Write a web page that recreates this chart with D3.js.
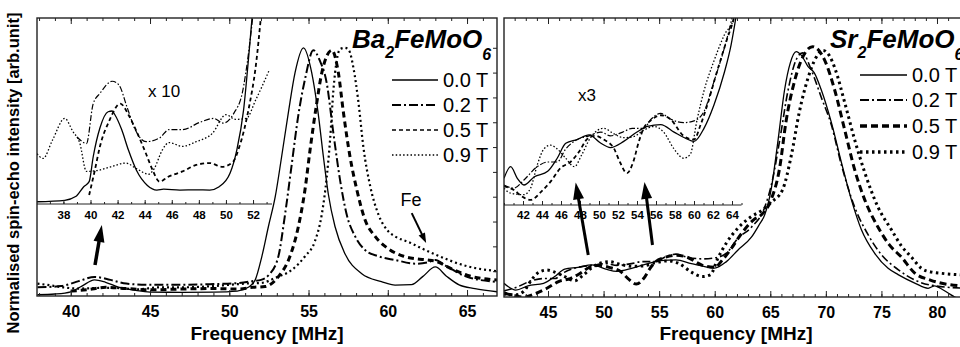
<!DOCTYPE html>
<html><head><meta charset="utf-8">
<script src="https://cdn.jsdelivr.net/npm/d3@7"></script>
<style>body{margin:0;background:#fff}svg{display:block}</style>
</head><body>
<svg id="c" width="960" height="347"></svg>
<script>
// ---------- data ----------
const fieldLabels = ["0.0 T", "0.2 T", "0.5 T", "0.9 T"];

// Ba2FeMoO6 main spectra [frequency MHz, normalised intensity]
const baMain00 = [[37.9,.005],[39,.008],[40,.017],[40.7,.04],[41.5,.065],[42.2,.055],[43,.036],[44,.024],[45,.016],[47,.015],[49,.016],[50.5,.02],[51.2,.035],[51.63,.064],[52.05,.158],[52.47,.28],[52.9,.40],[53.3,.56],[53.73,.74],[54.15,.90],[54.68,1.0],[55.2,.90],[55.6,.74],[55.94,.56],[56.25,.41],[56.67,.28],[57.3,.17],[58.36,.09],[59.6,.058],[60.46,.044],[61.5,.046],[62.2,.078],[63.0,.117],[63.7,.08],[64.5,.045],[65.5,.03],[66.9,.017]];
const baMain02 = [[37.9,.035],[39.4,.04],[40.5,.06],[41.5,.077],[42.5,.065],[43.5,.05],[45,.045],[47,.045],[49,.048],[50.5,.052],[51.5,.06],[52.0,.065],[52.5,.085],[53.1,.16],[53.5,.32],[53.94,.53],[54.36,.73],[54.8,.88],[55.3,.99],[55.7,.95],[56.15,.857],[56.57,.655],[56.99,.467],[57.4,.33],[57.94,.24],[58.57,.185],[59.4,.16],[60.46,.145],[61.8,.13],[62.5,.135],[63.0,.145],[63.7,.12],[65,.077],[66.9,.057]];
const baMain05 = [[40.0,.02],[41,.025],[42.2,.035],[43.5,.03],[45,.025],[47,.028],[49,.03],[50.5,.028],[51.5,.035],[52.26,.038],[53.1,.078],[53.83,.16],[54.36,.28],[54.78,.43],[55.1,.59],[55.5,.77],[55.84,.90],[56.47,.99],[56.88,.90],[57.2,.74],[57.62,.56],[58.04,.43],[58.57,.306],[59.2,.24],[60.04,.19],[61,.16],[61.8,.15],[62.5,.145],[63.0,.14],[64,.11],[65,.084],[66.9,.064]];
const baMain09 = [[37.9,.05],[38.5,.045],[39.5,.035],[40.5,.03],[41.5,.032],[42.6,.033],[44.3,.027],[45.5,.035],[47,.035],[49,.04],[50,.045],[51,.05],[52.05,.053],[52.9,.073],[53.94,.105],[54.78,.16],[55.4,.22],[55.84,.33],[56.15,.48],[56.36,.63],[56.57,.83],[56.78,.95],[57.0,.995],[57.3,1.0],[57.55,.99],[57.83,.92],[58.15,.78],[58.46,.60],[58.9,.44],[59.4,.33],[60.04,.26],[60.46,.24],[61.4,.215],[62.2,.19],[62.9,.17],[65,.12],[66.9,.10]];

// Ba2FeMoO6 inset (x10), relative inset height
const baIns00 = [[36.05,.012],[38.1,.02],[38.9,.04],[39.5,.093],[39.9,.12],[40.2,.254],[40.7,.41],[41.3,.496],[41.6,.50],[41.8,.48],[42.3,.40],[42.8,.29],[43.4,.18],[44.2,.10],[44.9,.075],[45.4,.08],[46.6,.075],[47.8,.076],[48.8,.075],[49.5,.093],[50.3,.165],[50.8,.29],[51.3,.505],[51.7,.81],[51.95,1.02]];
const baIns02 = [[39.0,.36],[39.4,.335],[39.7,.325],[40.2,.54],[40.7,.595],[41.6,.66],[42.1,.64],[42.7,.52],[43.3,.40],[44.1,.335],[45.1,.355],[45.8,.40],[46.8,.40],[48.1,.44],[49.1,.46],[49.8,.435],[50.6,.49],[51.2,.595],[51.7,.83],[52.0,1.02]];
const baIns05 = [[39.9,.048],[40.3,.175],[40.7,.31],[41.4,.45],[42.2,.54],[42.8,.48],[43.4,.39],[44.1,.27],[44.6,.18],[45.1,.12],[45.7,.145],[46.8,.175],[47.8,.21],[48.8,.22],[49.7,.2],[50.5,.225],[51.0,.31],[51.7,.52],[52.2,.74],[52.6,1.02]];
const baIns09 = [[36.05,.27],[36.5,.245],[37.2,.345],[38.1,.46],[38.7,.39],[39.2,.33],[39.7,.175],[40.5,.18],[41.5,.2],[42.6,.22],[43.4,.19],[44.3,.16],[44.7,.19],[45.3,.29],[45.8,.33],[46.8,.31],[47.8,.335],[49.0,.38],[50.0,.48],[50.7,.455],[51.5,.46],[52.2,.56],[53.2,.72]];

// Sr2FeMoO6 main spectra
const srMain00 = [[41.04,.055],[41.4,.042],[42.1,.028],[43.2,.045],[44.6,.055],[45.6,.082],[46.5,.112],[47.7,.119],[48.95,.129],[50.2,.112],[51.2,.103],[52.6,.116],[54.0,.134],[55.1,.146],[56.5,.149],[57.9,.134],[59.1,.122],[60.0,.116],[61.05,.142],[62.1,.189],[63.3,.24],[64.0,.29],[64.5,.33],[65.07,.43],[65.7,.63],[66.28,.83],[66.8,.94],[67.33,.985],[67.8,.97],[68.4,.925],[68.96,.90],[69.6,.83],[70.5,.70],[71.4,.54],[72.3,.39],[73.2,.27],[74.4,.175],[75.6,.115],[76.5,.09],[78,.056],[79.2,.035],[79.8,.045],[80.3,.035],[81.0,.016],[81.6,.0],[82.5,-.01]];
const srMain02 = [[41.04,.025],[42.1,.038],[43.5,.065],[44.6,.074],[45.6,.074],[46.5,.1],[47.7,.119],[48.95,.127],[50.2,.134],[51.2,.127],[52.5,.134],[53.5,.142],[54.7,.142],[55.5,.16],[56.5,.172],[57.5,.16],[58.9,.153],[60.0,.157],[61.05,.176],[62.1,.236],[63.3,.28],[64.5,.36],[65.2,.47],[65.85,.63],[66.6,.83],[67.3,.95],[67.9,.98],[68.7,.91],[69.6,.80],[70.5,.69],[71.4,.53],[72.6,.36],[73.8,.25],[75,.17],[76.5,.11],[78,.068],[79.4,.048],[82.5,.035]];
const srMain05 = [[41.04,.018],[41.9,.005],[42.8,.0],[43.9,.014],[44.9,.035],[46.0,.063],[47.0,.074],[47.9,.095],[48.8,.121],[49.6,.127],[50.5,.119],[51.6,.1],[52.2,.074],[52.95,.052],[53.6,.074],[54.2,.116],[54.7,.142],[55.4,.157],[56.5,.168],[57.5,.16],[58.9,.127],[60,.119],[60.7,.149],[61.4,.189],[62.4,.254],[63.5,.31],[64.2,.33],[65.07,.39],[65.85,.52],[66.4,.70],[67.2,.87],[68.0,.97],[68.8,1.005],[69.9,.95],[70.8,.83],[71.7,.67],[72.6,.51],[73.5,.39],[74.7,.28],[75.7,.21],[76.8,.16],[78,.096],[79.4,.068],[82.5,.043]];
const srMain09 = [[41.04,.012],[42.1,.009],[42.8,.022],[43.5,.068],[44.2,.1],[44.9,.108],[45.6,.1],[46.5,.082],[47.4,.065],[48.2,.089],[49.1,.123],[50.5,.142],[51.6,.13],[52.6,.123],[53.6,.125],[54.7,.138],[55.8,.145],[56.8,.134],[57.9,.1],[58.9,.082],[59.6,.089],[60.3,.157],[61.05,.217],[62.1,.277],[63.2,.32],[64.3,.35],[65.07,.38],[66.1,.43],[66.9,.57],[67.6,.74],[68.4,.88],[69.1,.96],[69.75,.99],[70.3,.97],[70.8,.92],[71.7,.78],[72.6,.63],[73.5,.50],[74.7,.36],[75.9,.27],[76.8,.205],[77.7,.16],[78.6,.115],[79.5,.1],[80.4,.095],[82.5,.088]];

// Sr2FeMoO6 inset (x3)
const srIns00 = [[40.0,.143],[40.7,.205],[41.4,.143],[42.1,.107],[43.2,.151],[44.6,.18],[45.6,.25],[46.5,.33],[47.7,.35],[48.95,.375],[50.2,.33],[51.2,.307],[52.6,.34],[54.0,.39],[55.1,.42],[56.5,.43],[57.9,.39],[59.1,.357],[60.0,.34],[61.05,.41],[62.1,.535],[63.2,.71],[63.9,.855],[64.4,1.0],[64.7,1.1]];
const srIns02 = [[40.0,.107],[41.05,.09],[42.1,.134],[43.5,.205],[44.6,.23],[45.6,.23],[46.5,.30],[47.7,.35],[48.95,.37],[50.2,.39],[51.2,.37],[52.5,.39],[53.5,.41],[54.7,.41],[55.5,.46],[56.5,.49],[57.5,.46],[58.9,.44],[60.0,.45],[61.05,.50],[62.1,.66],[63.2,.84],[64.0,1.0],[64.4,1.1]];
const srIns05 = [[40.0,.1],[41.05,.08],[41.9,.045],[42.8,.027],[43.9,.07],[44.9,.125],[46.0,.2],[47.0,.23],[47.9,.285],[48.8,.355],[49.6,.37],[50.5,.35],[51.6,.3],[52.2,.23],[52.95,.17],[53.6,.23],[54.2,.34],[54.7,.41],[55.4,.45],[56.5,.48],[57.5,.46],[58.9,.37],[60.0,.35],[60.7,.43],[61.4,.535],[62.4,.71],[63.5,.89],[64.2,1.0],[64.6,1.1]];
const srIns09 = [[40.0,.09],[40.7,.063],[42.1,.055],[42.8,.09],[43.5,.214],[44.2,.30],[44.9,.32],[45.6,.30],[46.5,.25],[47.4,.205],[48.2,.27],[49.1,.36],[50.5,.41],[51.6,.38],[52.6,.36],[53.6,.365],[54.7,.40],[55.8,.42],[56.8,.39],[57.9,.30],[58.9,.25],[59.6,.27],[60.3,.45],[61.05,.61],[62.1,.77],[63.2,.91],[64.2,1.0],[64.6,1.1]];

// tick values
const baMainTicks = [40,45,50,55,60,65];
const srMainTicks = [45,50,55,60,65,70,75,80];
const baInsTicks = [38,40,42,44,46,48,50,52];
const srInsTicks = [42,44,46,48,50,52,54,56,58,60,62,64];

// annotation arrows [f1, v1, f2, v2] in main data units
const baArrows = [[41.53,.125,41.96,.286],[61.51,.334,62.42,.2135]];
const srArrows = [[48.62,.169,47.49,.46],[54.40,.209,53.68,.462]];

// ---------- drawing ----------
const FONT = "'Liberation Sans', Arial, Helvetica, sans-serif";
const svg = d3.select("#c");
const defs = svg.append("defs");

const styleMainBa = [{w:1.3,d:null},{w:2,d:"9,3,2,3"},{w:3,d:"6,4"},{w:2.2,d:"2,3"}];
const styleMainSr = [{w:1.3,d:null},{w:1.6,d:"8,3,2,3"},{w:3,d:"7,4"},{w:3,d:"2.5,3.5"}];
const styleIns = [{w:1.3,d:null},{w:1.2,d:"6,2,1.5,2"},{w:1.8,d:"4,3"},{w:1.3,d:"1.5,2"}];
const styleLegBa = [{w:1.3,d:null},{w:2,d:"9,3,2,3"},{w:1.6,d:"4,3"},{w:1.6,d:"1.5,2.2"}];
const styleLegSr = [{w:1.3,d:null},{w:2,d:"9,3,2,3"},{w:3.5,d:"7,4"},{w:3.5,d:"2.5,3.5"}];

let clipId = 0;
function clip(x0,y0,x1,y1){
  const id = "cl"+(clipId++);
  defs.append("clipPath").attr("id",id).append("rect")
    .attr("x",x0).attr("y",y0).attr("width",x1-x0).attr("height",y1-y0);
  return "url(#"+id+")";
}

function drawSeries(series, x, y, styles, clipUrl){
  const g = svg.append("g").attr("clip-path", clipUrl);
  const line = d3.line().x(d=>x(d[0])).y(d=>y(d[1])).curve(d3.curveMonotoneX);
  series.forEach((s,i)=>{
    g.append("path").attr("d", line(s)).attr("fill","none")
      .attr("stroke","#000").attr("stroke-width",styles[i].w)
      .attr("stroke-dasharray",styles[i].d).attr("stroke-linejoin","round");
  });
}

function styleAxis(g, size, bold){
  g.select(".domain").remove();
  g.selectAll("line").attr("stroke","#222").attr("stroke-width",1);
  g.selectAll("text").attr("font-family",FONT).attr("font-size",size)
    .attr("font-weight", bold ? "bold":"normal").attr("fill","#000");
}

function minorRange(a,b){ return d3.range(Math.ceil(a), Math.floor(b)+1); }

function arrow(x1,y1,x2,y2,w,hl,hw){
  const dx=x2-x1, dy=y2-y1, L=Math.hypot(dx,dy), ux=dx/L, uy=dy/L;
  const bx=x2-ux*hl, by=y2-uy*hl;
  svg.append("line").attr("x1",x1).attr("y1",y1).attr("x2",bx+ux*1).attr("y2",by+uy*1)
    .attr("stroke","#000").attr("stroke-width",w);
  svg.append("polygon").attr("fill","#000").attr("points",
    [[x2,y2],[bx-uy*hw/2,by+ux*hw/2],[bx+uy*hw/2,by-ux*hw/2]].map(p=>p.join(",")).join(" "));
}

function panel(cfg){
  const [L,T,R,B] = cfg.frame;
  const x = d3.scaleLinear().domain(cfg.xDom).range([L, cfg.xRight]);
  const y = d3.scaleLinear().domain([0,1.12]).range([B,T]);
  const xi = d3.scaleLinear().domain(cfg.insDom).range([L, cfg.insRight]);
  const yi = d3.scaleLinear().domain([0,1]).range([cfg.insAxisY, T]);

  // curves
  drawSeries(cfg.main, x, y, cfg.mainStyle, clip(L,T,R,B));
  drawSeries(cfg.ins, xi, yi, styleIns, clip(L,T,cfg.insRight,cfg.insAxisY));

  // frame
  svg.append("rect").attr("x",L).attr("y",T).attr("width",R-L).attr("height",B-T)
    .attr("fill","none").attr("stroke","#222").attr("stroke-width",1.4);

  // main bottom axis
  const mj = svg.append("g").attr("transform",`translate(0,${B})`)
    .call(d3.axisBottom(x).tickValues(cfg.mainTicks).tickSize(-6).tickPadding(10).tickFormat(d3.format("d")));
  styleAxis(mj, 16, true);
  const mn = svg.append("g").attr("transform",`translate(0,${B})`)
    .call(d3.axisBottom(x).tickValues(minorRange(cfg.xDom[0], Math.min(cfg.xDom[1], 81.9))).tickSize(-3).tickFormat(""));
  styleAxis(mn, 10, false);
  // top mirrored ticks
  const tj = svg.append("g").attr("transform",`translate(0,${T})`)
    .call(d3.axisTop(x).tickValues(cfg.mainTicks).tickSize(-6).tickFormat(""));
  styleAxis(tj, 10, false);
  const tn = svg.append("g").attr("transform",`translate(0,${T})`)
    .call(d3.axisTop(x).tickValues(minorRange(cfg.xDom[0], Math.min(cfg.xDom[1], 81.9))).tickSize(-3).tickFormat(""));
  styleAxis(tn, 10, false);

  // inset axis
  svg.append("line").attr("x1",L).attr("x2",cfg.insRight).attr("y1",cfg.insAxisY).attr("y2",cfg.insAxisY)
    .attr("stroke","#222").attr("stroke-width",1);
  const ij = svg.append("g").attr("transform",`translate(0,${cfg.insAxisY})`)
    .call(d3.axisBottom(xi).tickValues(cfg.insTicks).tickSize(-4).tickPadding(cfg.insPad).tickFormat(d3.format("d")));
  styleAxis(ij, 11.5, true);
  const inn = svg.append("g").attr("transform",`translate(0,${cfg.insAxisY})`)
    .call(d3.axisBottom(xi).tickValues(minorRange(cfg.insDom[0], cfg.insDom[1])).tickSize(-2).tickFormat(""));
  styleAxis(inn, 10, false);

  // right y ticks
  if (cfg.rightTicks){
    const ry = svg.append("g").attr("transform",`translate(${R},0)`)
      .call(d3.axisRight(y).tickValues(d3.range(1,11).map(v=>v/10)).tickSize(-4).tickFormat(""));
    styleAxis(ry, 10, false);
  }

  // title
  const t = svg.append("text").attr("x",cfg.titleX).attr("y",48)
    .attr("font-family",FONT).attr("font-weight","bold").attr("font-style","italic")
    .attr("font-size",26).attr("fill","#000");
  t.append("tspan").text(cfg.title[0]);
  t.append("tspan").attr("dy",10).attr("font-size",16).text("2");
  t.append("tspan").attr("dy",-10).text("FeMoO");
  t.append("tspan").attr("dy",12).attr("font-size",16).text("6");

  // legend
  fieldLabels.forEach((lab,i)=>{
    const ly = cfg.legY[i];
    svg.append("line").attr("x1",cfg.legX[0]).attr("x2",cfg.legX[1]).attr("y1",ly).attr("y2",ly)
      .attr("stroke","#000").attr("stroke-width",cfg.legStyle[i].w).attr("stroke-dasharray",cfg.legStyle[i].d);
    svg.append("text").attr("x",cfg.legX[2]).attr("y",ly+7).attr("font-family",FONT)
      .attr("font-size",20).attr("fill","#000").text(lab);
  });

  // inset magnification label
  svg.append("text").attr("x",cfg.magX).attr("y",cfg.magY).attr("font-family",FONT)
    .attr("font-size",17).attr("fill","#000").text(cfg.mag);

  // x label
  svg.append("text").attr("x",cfg.xlabX).attr("y",340).attr("text-anchor","middle")
    .attr("font-family",FONT).attr("font-weight","bold").attr("font-size",19).attr("fill","#000")
    .text("Frequency [MHz]");

  cfg.arrows.forEach((a,i)=>{
    const big = cfg.arrowSize[i];
    arrow(x(a[0]),y(a[1]),x(a[2]),y(a[3]),big[0],big[1],big[2]);
  });
  return {x,y};
}

const ba = panel({
  frame:[37,18,497,296], xDom:[37.87,66.89], xRight:497,
  insDom:[36.05,53.4], insRight:272, insAxisY:204, insPad:7,
  main:[baMain00,baMain02,baMain05,baMain09], mainStyle:styleMainBa,
  ins:[baIns00,baIns02,baIns05,baIns09],
  mainTicks:baMainTicks, insTicks:baInsTicks, rightTicks:true,
  title:["Ba"], titleX:352,
  legX:[392,438,443], legY:[80,105,130,155], legStyle:styleLegBa,
  mag:"x 10", magX:148, magY:97, xlabX:267,
  arrows:baArrows, arrowSize:[[3.5,17,11],[2,10,7]]
});
// Fe label
svg.append("text").attr("x",ba.x(60.8)).attr("y",ba.y(.363)).attr("font-family",FONT)
  .attr("font-size",18).attr("fill","#000").text("Fe");

panel({
  frame:[504,18,965,297], xDom:[41.04,82.52], xRight:965,
  insDom:[40,65], insRight:741.5, insAxisY:205, insPad:6,
  main:[srMain00,srMain02,srMain05,srMain09], mainStyle:styleMainSr,
  ins:[srIns00,srIns02,srIns05,srIns09],
  mainTicks:srMainTicks, insTicks:srInsTicks, rightTicks:false,
  title:["Sr"], titleX:830,
  legX:[860,907,912], legY:[75,100,126,152], legStyle:styleLegSr,
  mag:"x3", magX:578, magY:101, xlabX:736,
  arrows:srArrows, arrowSize:[[3,17,11],[3,17,11]]
});

// y label
svg.append("text").attr("transform","translate(19,173) rotate(-90)").attr("text-anchor","middle")
  .attr("font-family",FONT).attr("font-weight","bold").attr("font-size",16.5).attr("fill","#000")
  .text("Normalised spin-echo intensity [arb.unit]");
</script>
</body></html>
